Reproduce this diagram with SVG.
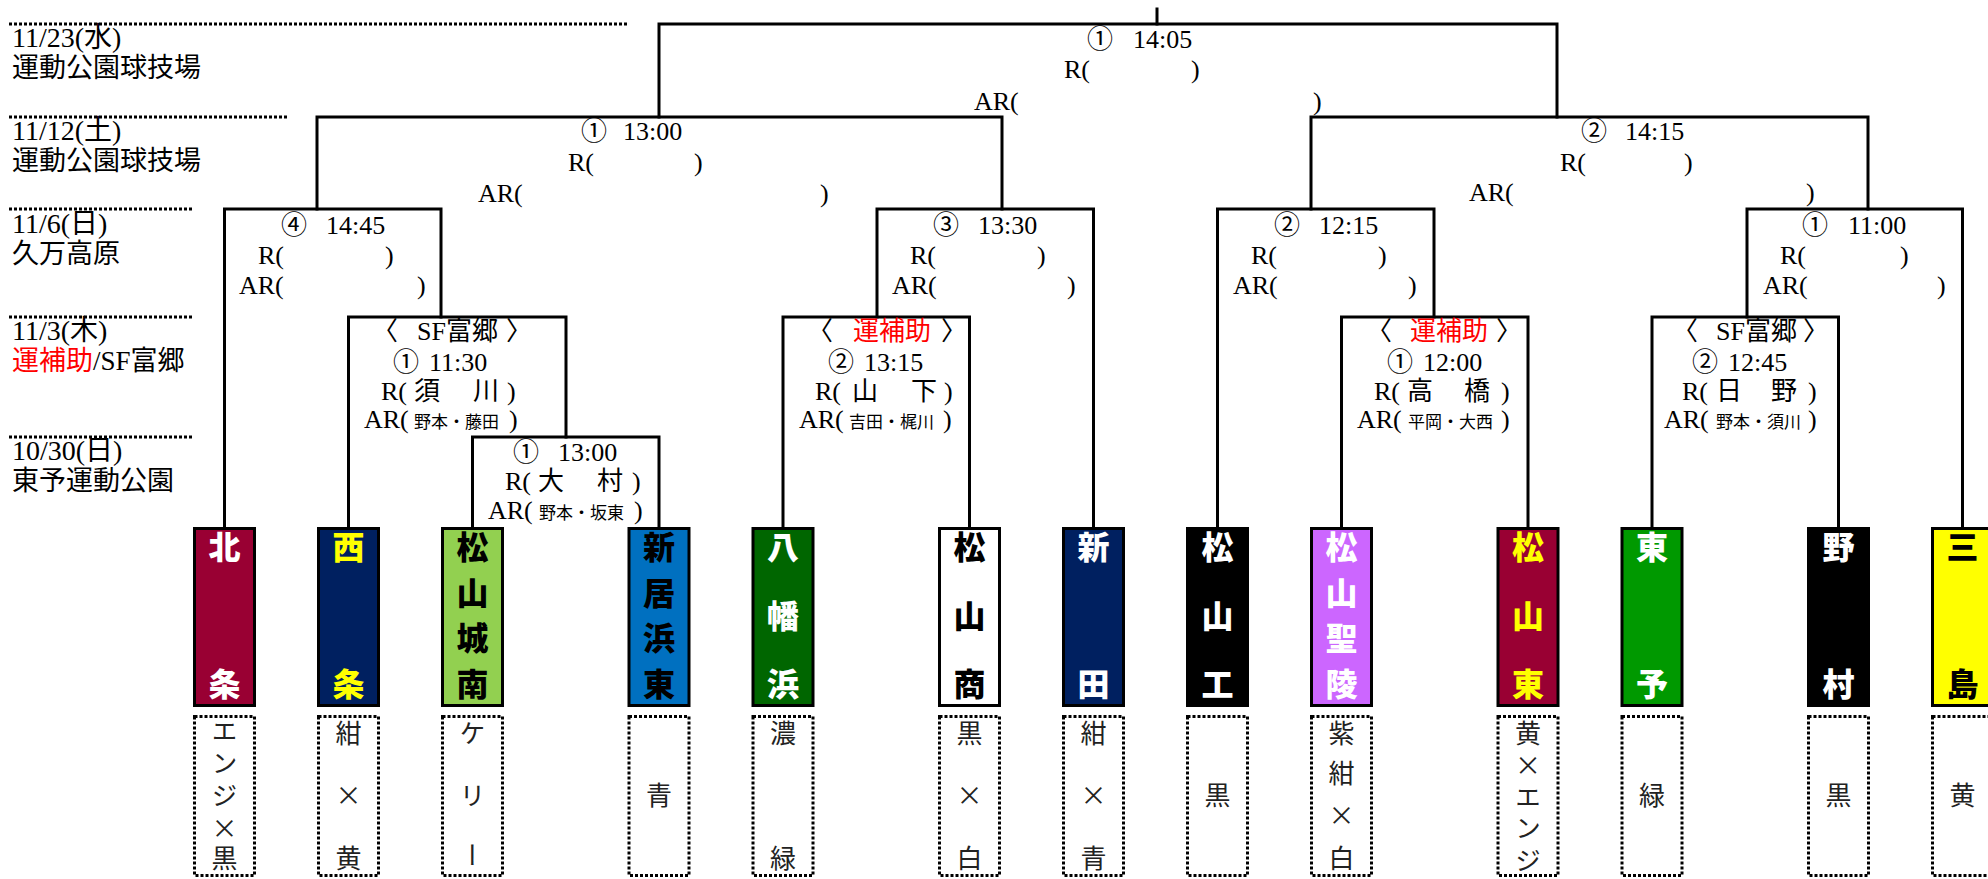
<svg xmlns="http://www.w3.org/2000/svg" width="1988" height="879" viewBox="0 0 1988 879">
<style>
.ln{fill:none;stroke:#000;stroke-width:3;stroke-linecap:square}
.sep{stroke:#000;stroke-width:3;stroke-dasharray:3 2}
.t{font-family:"Liberation Serif","Noto Sans CJK JP",serif;font-size:26px;fill:#000}
.d{font-size:28px}
.p{font-size:27px}
.c{font-family:"Noto Sans CJK JP",sans-serif;font-size:26px}
.s{font-size:17px}
.red{fill:#FF0000}
.tb{stroke:#000;stroke-width:3}
.cb{fill:none;stroke:#000;stroke-width:3;stroke-dasharray:3 2}
.tn{font-family:"Noto Sans CJK JP",sans-serif;font-weight:900;font-size:32px;text-anchor:middle}
.cv{font-family:"Noto Sans CJK JP",sans-serif;font-size:26px;fill:#222;writing-mode:vertical-rl}
</style>
<rect width="1988" height="879" fill="#fff"/>
<g id="separators">
<line class="sep" x1="9" y1="24" x2="629" y2="24"/>
<line class="sep" x1="9" y1="117" x2="287" y2="117"/>
<line class="sep" x1="9" y1="209" x2="194" y2="209"/>
<line class="sep" x1="9" y1="317" x2="194" y2="317"/>
<line class="sep" x1="9" y1="437" x2="194" y2="437"/>
</g>
<g id="dates">
<text class="t d" x="12" y="47">11/23(水)</text>
<text class="t p" x="12" y="77">運動公園球技場</text>
<text class="t d" x="12" y="140">11/12(土)</text>
<text class="t p" x="12" y="170">運動公園球技場</text>
<text class="t d" x="12" y="233">11/6(日)</text>
<text class="t p" x="12" y="263">久万高原</text>
<text class="t d" x="12" y="340">11/3(木)</text>
<text class="t p" x="12" y="370"><tspan class="red">運補助</tspan>/SF富郷</text>
<text class="t d" x="12" y="460">10/30(日)</text>
<text class="t p" x="12" y="490">東予運動公園</text>
</g>
<g id="connectors">
<path class="ln" d="M1157,9 V24"/>
<path class="ln" d="M659,117 V24 H1557 V117"/>
<path class="ln" d="M317,209 V117 H1002 V209"/>
<path class="ln" d="M1311,209 V117 H1868 V209"/>
<path class="ln" d="M224.5,527 V209 H441 V317"/>
<path class="ln" d="M877,317 V209 H1093.5 V527"/>
<path class="ln" d="M1217.5,527 V209 H1434 V317"/>
<path class="ln" d="M1747,317 V209 H1962.5 V527"/>
<path class="ln" d="M348.5,527 V317 H566 V437"/>
<path class="ln" d="M783,527 V317 H969.5 V527"/>
<path class="ln" d="M1341.5,527 V317 H1528 V527"/>
<path class="ln" d="M1652,527 V317 H1838.5 V527"/>
<path class="ln" d="M472.5,527 V437 H659 V527"/>
</g>
<g id="match-final">
<text class="t" y="48"><tspan class="c" x="1087">①</tspan><tspan x="1133">14:05</tspan></text>
<text class="t" y="78"><tspan x="1064">R(</tspan><tspan x="1191">)</tspan></text>
<text class="t" y="110"><tspan x="974">AR(</tspan><tspan x="1313">)</tspan></text>
</g>
<g id="match-semi1">
<text class="t" y="140"><tspan class="c" x="581">①</tspan><tspan x="623">13:00</tspan></text>
<text class="t" y="171"><tspan x="568">R(</tspan><tspan x="694">)</tspan></text>
<text class="t" y="202"><tspan x="478">AR(</tspan><tspan x="820">)</tspan></text>
</g>
<g id="match-semi2">
<text class="t" y="140"><tspan class="c" x="1581">②</tspan><tspan x="1625">14:15</tspan></text>
<text class="t" y="171"><tspan x="1560">R(</tspan><tspan x="1684">)</tspan></text>
<text class="t" y="201"><tspan x="1469">AR(</tspan><tspan x="1806">)</tspan></text>
</g>
<g id="match-qf4">
<text class="t" y="234"><tspan class="c" x="281">④</tspan><tspan x="326">14:45</tspan></text>
<text class="t" y="264"><tspan x="258">R(</tspan><tspan x="385">)</tspan></text>
<text class="t" y="294"><tspan x="239">AR(</tspan><tspan x="417">)</tspan></text>
</g>
<g id="match-qf3">
<text class="t" y="234"><tspan class="c" x="933">③</tspan><tspan x="978">13:30</tspan></text>
<text class="t" y="264"><tspan x="910">R(</tspan><tspan x="1037">)</tspan></text>
<text class="t" y="294"><tspan x="892">AR(</tspan><tspan x="1067">)</tspan></text>
</g>
<g id="match-qf2">
<text class="t" y="234"><tspan class="c" x="1274">②</tspan><tspan x="1319">12:15</tspan></text>
<text class="t" y="264"><tspan x="1251">R(</tspan><tspan x="1378">)</tspan></text>
<text class="t" y="294"><tspan x="1233">AR(</tspan><tspan x="1408">)</tspan></text>
</g>
<g id="match-qf1">
<text class="t" y="234"><tspan class="c" x="1802">①</tspan><tspan x="1848">11:00</tspan></text>
<text class="t" y="264"><tspan x="1780">R(</tspan><tspan x="1900">)</tspan></text>
<text class="t" y="294"><tspan x="1763">AR(</tspan><tspan x="1937">)</tspan></text>
</g>
<g id="match-sf1">
<text class="t" y="340"><tspan x="372">〈</tspan><tspan x="417">SF富郷</tspan><tspan x="506">〉</tspan></text>
<text class="t" y="371"><tspan class="c" x="393">①</tspan><tspan x="429">11:30</tspan></text>
<text class="t" y="400"><tspan x="381">R(</tspan><tspan x="414">須</tspan><tspan x="473">川</tspan><tspan x="507">)</tspan></text>
<text class="t" y="428"><tspan x="364">AR(</tspan><tspan class="s" x="414">野本・藤田</tspan><tspan x="509">)</tspan></text>
</g>
<g id="match-un2">
<text class="t" y="340"><tspan x="807">〈</tspan><tspan class="red" x="853">運補助</tspan><tspan x="941">〉</tspan></text>
<text class="t" y="371"><tspan class="c" x="828">②</tspan><tspan x="864">13:15</tspan></text>
<text class="t" y="400"><tspan x="815">R(</tspan><tspan x="852">山</tspan><tspan x="911">下</tspan><tspan x="944">)</tspan></text>
<text class="t" y="428"><tspan x="799">AR(</tspan><tspan class="s" x="849">吉田・梶川</tspan><tspan x="943">)</tspan></text>
</g>
<g id="match-un1">
<text class="t" y="340"><tspan x="1366">〈</tspan><tspan class="red" x="1410">運補助</tspan><tspan x="1496">〉</tspan></text>
<text class="t" y="371"><tspan class="c" x="1387">①</tspan><tspan x="1423">12:00</tspan></text>
<text class="t" y="400"><tspan x="1374">R(</tspan><tspan x="1407">高</tspan><tspan x="1464">橋</tspan><tspan x="1501">)</tspan></text>
<text class="t" y="428"><tspan x="1357">AR(</tspan><tspan class="s" x="1408">平岡・大西</tspan><tspan x="1501">)</tspan></text>
</g>
<g id="match-sf2">
<text class="t" y="340"><tspan x="1672">〈</tspan><tspan x="1716">SF富郷</tspan><tspan x="1803">〉</tspan></text>
<text class="t" y="371"><tspan class="c" x="1692">②</tspan><tspan x="1728">12:45</tspan></text>
<text class="t" y="400"><tspan x="1682">R(</tspan><tspan x="1716">日</tspan><tspan x="1771">野</tspan><tspan x="1808">)</tspan></text>
<text class="t" y="428"><tspan x="1664">AR(</tspan><tspan class="s" x="1716">野本・須川</tspan><tspan x="1808">)</tspan></text>
</g>
<g id="match-r1">
<text class="t" y="461"><tspan class="c" x="513">①</tspan><tspan x="558">13:00</tspan></text>
<text class="t" y="490"><tspan x="505">R(</tspan><tspan x="538">大</tspan><tspan x="597">村</tspan><tspan x="632">)</tspan></text>
<text class="t" y="519"><tspan x="488">AR(</tspan><tspan class="s" x="539">野本・坂東</tspan><tspan x="634">)</tspan></text>
</g>
<g id="team-kitajo">
<rect class="tb" x="194.5" y="528.5" width="60" height="177" fill="#990033"/>
<text class="tn" fill="#fff"><tspan x="224.5" y="559">北</tspan><tspan x="224.5" y="696">条</tspan></text>
<rect class="cb" x="194.5" y="716.5" width="60" height="159"/>
<text class="cv" x="224.5" y="718 750 782 815 845">エンジ×黒</text>
</g>
<g id="team-saijo">
<rect class="tb" x="318.5" y="528.5" width="60" height="177" fill="#002060"/>
<text class="tn" fill="#FFFF00"><tspan x="348.5" y="559">西</tspan><tspan x="348.5" y="696">条</tspan></text>
<rect class="cb" x="318.5" y="716.5" width="60" height="159"/>
<text class="cv" x="348.5" y="720 782 845">紺×黄</text>
</g>
<g id="team-matsuyamajonan">
<rect class="tb" x="442.5" y="528.5" width="60" height="177" fill="#92D050"/>
<text class="tn" fill="#000"><tspan x="472.5" y="559">松</tspan><tspan x="472.5" y="605">山</tspan><tspan x="472.5" y="650">城</tspan><tspan x="472.5" y="696">南</tspan></text>
<rect class="cb" x="442.5" y="716.5" width="60" height="159"/>
<text class="cv" x="472.5" y="720 782 842">ケリー</text>
</g>
<g id="team-niihamahigashi">
<rect class="tb" x="629" y="528.5" width="60" height="177" fill="#0070C0"/>
<text class="tn" fill="#000"><tspan x="659" y="559">新</tspan><tspan x="659" y="605">居</tspan><tspan x="659" y="650">浜</tspan><tspan x="659" y="696">東</tspan></text>
<rect class="cb" x="629" y="716.5" width="60" height="159"/>
<text class="cv" x="659" y="782">青</text>
</g>
<g id="team-yawatahama">
<rect class="tb" x="753" y="528.5" width="60" height="177" fill="#006600"/>
<text class="tn" fill="#fff"><tspan x="783" y="559">八</tspan><tspan x="783" y="627.5">幡</tspan><tspan x="783" y="696">浜</tspan></text>
<rect class="cb" x="753" y="716.5" width="60" height="159"/>
<text class="cv" x="783" y="720 845">濃緑</text>
</g>
<g id="team-matsuyamasho">
<rect class="tb" x="939.5" y="528.5" width="60" height="177" fill="#fff"/>
<text class="tn" fill="#000"><tspan x="969.5" y="559">松</tspan><tspan x="969.5" y="627.5">山</tspan><tspan x="969.5" y="696">商</tspan></text>
<rect class="cb" x="939.5" y="716.5" width="60" height="159"/>
<text class="cv" x="969.5" y="720 782 845">黒×白</text>
</g>
<g id="team-nitta">
<rect class="tb" x="1063.5" y="528.5" width="60" height="177" fill="#002060"/>
<text class="tn" fill="#fff"><tspan x="1093.5" y="559">新</tspan><tspan x="1093.5" y="696">田</tspan></text>
<rect class="cb" x="1063.5" y="716.5" width="60" height="159"/>
<text class="cv" x="1093.5" y="720 782 845">紺×青</text>
</g>
<g id="team-matsuyamako">
<rect class="tb" x="1187.5" y="528.5" width="60" height="177" fill="#000"/>
<text class="tn" fill="#fff"><tspan x="1217.5" y="559">松</tspan><tspan x="1217.5" y="627.5">山</tspan><tspan x="1217.5" y="696">工</tspan></text>
<rect class="cb" x="1187.5" y="716.5" width="60" height="159"/>
<text class="cv" x="1217.5" y="782">黒</text>
</g>
<g id="team-matsuyamaseiryo">
<rect class="tb" x="1311.5" y="528.5" width="60" height="177" fill="#CC66FF"/>
<text class="tn" fill="#fff"><tspan x="1341.5" y="559">松</tspan><tspan x="1341.5" y="605">山</tspan><tspan x="1341.5" y="650">聖</tspan><tspan x="1341.5" y="696">陵</tspan></text>
<rect class="cb" x="1311.5" y="716.5" width="60" height="159"/>
<text class="cv" x="1341.5" y="720 760 802 845">紫紺×白</text>
</g>
<g id="team-matsuyamahigashi">
<rect class="tb" x="1498" y="528.5" width="60" height="177" fill="#990033"/>
<text class="tn" fill="#FFFF00"><tspan x="1528" y="559">松</tspan><tspan x="1528" y="627.5">山</tspan><tspan x="1528" y="696">東</tspan></text>
<rect class="cb" x="1498" y="716.5" width="60" height="159"/>
<text class="cv" x="1528" y="720 752 784 815 847">黄×エンジ</text>
</g>
<g id="team-toyo">
<rect class="tb" x="1622" y="528.5" width="60" height="177" fill="#009900"/>
<text class="tn" fill="#fff"><tspan x="1652" y="559">東</tspan><tspan x="1652" y="696">予</tspan></text>
<rect class="cb" x="1622" y="716.5" width="60" height="159"/>
<text class="cv" x="1652" y="782">緑</text>
</g>
<g id="team-nomura">
<rect class="tb" x="1808.5" y="528.5" width="60" height="177" fill="#000"/>
<text class="tn" fill="#fff"><tspan x="1838.5" y="559">野</tspan><tspan x="1838.5" y="696">村</tspan></text>
<rect class="cb" x="1808.5" y="716.5" width="60" height="159"/>
<text class="cv" x="1838.5" y="782">黒</text>
</g>
<g id="team-mishima">
<rect class="tb" x="1932.5" y="528.5" width="60" height="177" fill="#FFFF00"/>
<text class="tn" fill="#000"><tspan x="1962.5" y="559">三</tspan><tspan x="1962.5" y="696">島</tspan></text>
<rect class="cb" x="1932.5" y="716.5" width="60" height="159"/>
<text class="cv" x="1962.5" y="782">黄</text>
</g>
</svg>
